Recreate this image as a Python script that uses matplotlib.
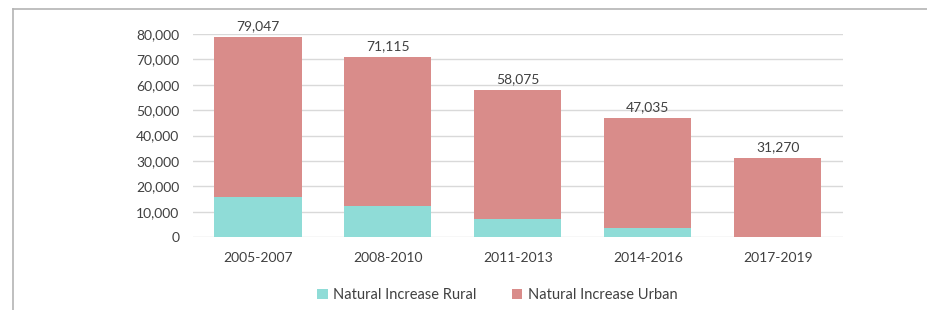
import numpy as np
import matplotlib.pyplot as plt
from matplotlib.lines import Line2D

# Datos
periodos = ['2005-2007', '2008-2010', '2011-2013', '2014-2016', '2017-2019']
total = [79047, 71115, 58075, 47035, 31270]
rural = [15900, 12350, 7100, 3800, 0]
urbano = [t - r for t, r in zip(total, rural)]

c_rural = '#8fdcd7'
c_urbano = '#d98c8a'
texto = '#404040'

plt.rcParams['font.family'] = ['Lato', 'DejaVu Sans']

fig = plt.figure(figsize=(9.28, 3.10), dpi=100)
ax = fig.add_axes([0.208, 0.235, 0.700, 0.655])

x = np.arange(len(periodos))
ax.bar(x, rural, width=0.67, color=c_rural, label='Natural Increase Rural', zorder=3)
ax.bar(x, urbano, width=0.67, bottom=rural, color=c_urbano, label='Natural Increase Urban', zorder=3)

for xi, t in zip(x, total):
    ax.annotate(f'{t:,}', (xi, t), xytext=(0, 3), textcoords='offset points',
                ha='center', va='bottom', fontsize=10, color=texto, annotation_clip=False)

ax.set_xlim(-0.5, 4.5)
ax.set_ylim(0, 80000)
ax.set_yticks(np.arange(0, 80001, 10000))
ax.set_yticklabels([f'{v:,}' for v in range(0, 80001, 10000)])
ax.set_xticks(x)
ax.set_xticklabels(periodos)
ax.tick_params(axis='both', length=0, labelsize=10, colors=texto)
ax.tick_params(axis='y', pad=10)
ax.tick_params(axis='x', pad=11)
ax.grid(axis='y', color='#d9d9d9', linewidth=1, zorder=0)
for s in ax.spines.values():
    s.set_visible(False)

fig.legend(loc='center', bbox_to_anchor=(0.536, 0.048), ncol=2, frameon=False,
           fontsize=10.5, handlelength=0.7, handleheight=0.7, handletextpad=0.4,
           columnspacing=2.4, labelcolor=texto)

# marco
fig.add_artist(Line2D([0.014, 0.014], [0, 0.97], transform=fig.transFigure, color='#b4b4b4', lw=1.2))
fig.add_artist(Line2D([0.014, 1.0], [0.97, 0.97], transform=fig.transFigure, color='#b4b4b4', lw=1.2))

fig.savefig('out.png', dpi=100)
